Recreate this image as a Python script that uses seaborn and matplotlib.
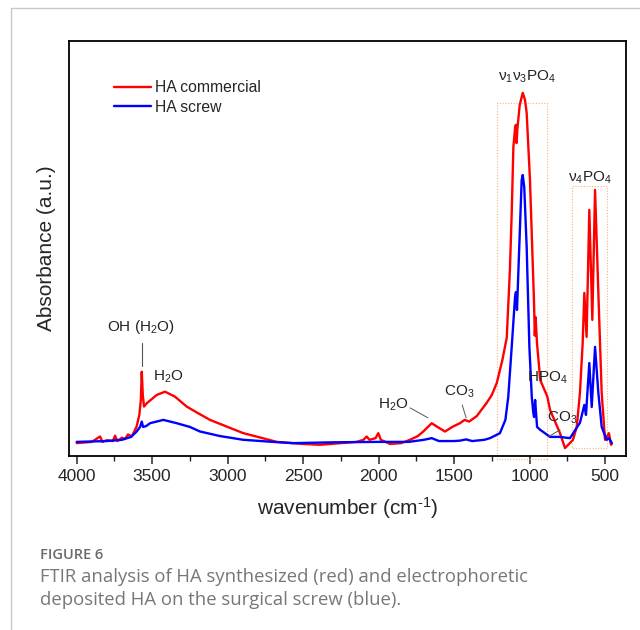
import pandas as pd
import matplotlib.pyplot as plt
import seaborn as sns
from matplotlib.lines import Line2D
from matplotlib.patches import Rectangle

# FTIR spectra (wavenumber in cm-1, absorbance in a.u.)
commercial_wn = [4000, 3900, 3845, 3830, 3800, 3760, 3746, 3730, 3700, 3680, 3660, 3636,
                 3620, 3603, 3585, 3575, 3569, 3562, 3554, 3536, 3470, 3415, 3349, 3271,
                 3200, 3117, 3000, 2896, 2800, 2675, 2500, 2388, 2250, 2145, 2100, 2079,
                 2060, 2020, 2002, 1985, 1924, 1850, 1792, 1740, 1704, 1648, 1610, 1560,
                 1507, 1461, 1430, 1400, 1350, 1284, 1250, 1217, 1180, 1151, 1130, 1118,
                 1107, 1095, 1090, 1086, 1080, 1065, 1045, 1030, 1019, 997, 979, 971, 965,
                 960, 950, 929, 882, 864, 798, 765, 712, 687, 666, 648, 637, 622, 604, 584,
                 566, 544, 522, 500, 474, 460, 455]
commercial_abs = [0.031, 0.034, 0.047, 0.034, 0.038, 0.036, 0.049, 0.036, 0.044, 0.041,
                  0.052, 0.047, 0.058, 0.071, 0.099, 0.135, 0.203, 0.147, 0.119, 0.127,
                  0.147, 0.155, 0.143, 0.119, 0.104, 0.087, 0.070, 0.055, 0.046, 0.034,
                  0.029, 0.027, 0.031, 0.034, 0.039, 0.047, 0.039, 0.043, 0.055, 0.039,
                  0.029, 0.031, 0.039, 0.048, 0.059, 0.079, 0.070, 0.059, 0.071, 0.079,
                  0.087, 0.083, 0.096, 0.128, 0.147, 0.176, 0.231, 0.285, 0.448, 0.586,
                  0.745, 0.793, 0.798, 0.754, 0.790, 0.846, 0.875, 0.858, 0.827, 0.665,
                  0.465, 0.380, 0.290, 0.335, 0.270, 0.183, 0.143, 0.111, 0.055, 0.019,
                  0.039, 0.071, 0.152, 0.272, 0.393, 0.287, 0.593, 0.328, 0.641, 0.393,
                  0.152, 0.039, 0.055, 0.027, 0.030]

screw_wn = [4000, 3800, 3700, 3640, 3603, 3580, 3569, 3560, 3540, 3514, 3426, 3337, 3250,
            3183, 3050, 2896, 2700, 2567, 2300, 2000, 1800, 1700, 1648, 1600, 1500, 1461,
            1420, 1380, 1300, 1262, 1196, 1160, 1141, 1118, 1096, 1090, 1083, 1068, 1052,
            1045, 1035, 1019, 1001, 985, 975, 970, 963, 950, 929, 864, 800, 732, 666,
            637, 626, 604, 588, 566, 544, 522, 489, 474, 455]
screw_abs = [0.034, 0.036, 0.039, 0.046, 0.059, 0.070, 0.083, 0.070, 0.072, 0.079, 0.087,
             0.079, 0.070, 0.059, 0.048, 0.039, 0.034, 0.031, 0.033, 0.034, 0.034, 0.039,
             0.043, 0.036, 0.036, 0.037, 0.040, 0.036, 0.039, 0.043, 0.055, 0.087, 0.142,
             0.263, 0.383, 0.395, 0.352, 0.504, 0.665, 0.677, 0.648, 0.504, 0.263, 0.142,
             0.104, 0.094, 0.135, 0.070, 0.063, 0.046, 0.046, 0.043, 0.080, 0.123, 0.099,
             0.224, 0.118, 0.263, 0.152, 0.070, 0.039, 0.043, 0.031]

series_names = ["HA commercial", "HA screw"]
x_ticks = [4000, 3500, 3000, 2500, 2000, 1500, 1000, 500]

df = pd.concat([
    pd.DataFrame({"wn": commercial_wn, "abs": commercial_abs, "sample": series_names[0]}),
    pd.DataFrame({"wn": screw_wn, "abs": screw_abs, "sample": series_names[1]}),
])

sns.set_style("ticks")
plt.rcParams["font.family"] = ["Liberation Sans", "DejaVu Sans"]
plt.rcParams["mathtext.fontset"] = "custom"
plt.rcParams["mathtext.rm"] = "Liberation Sans"
plt.rcParams["mathtext.default"] = "regular"

fig = plt.figure(figsize=(6.4, 6.3), dpi=100)
ax = fig.add_axes([0.1078, 0.2762, 0.8703, 0.6587])

sns.lineplot(data=df, x="wn", y="abs", hue="sample", estimator=None, sort=False,
             palette={"HA commercial": "#ff0000", "HA screw": "#0000ff"},
             linewidth=1.7, ax=ax)

ax.set_xlim(4051, 361)
ax.set_ylim(0, 1)
ax.set_xticks(x_ticks)
ax.set_xticks([3750, 3250, 2750, 2250, 1750, 1250, 750], minor=True)
ax.set_yticks([])
ax.tick_params(axis="x", which="major", direction="out", length=6, width=1.1, labelsize=12.5)
ax.tick_params(axis="x", which="minor", direction="out", length=3.5, width=1.0)
for s in ax.spines.values():
    s.set_linewidth(1.3)
    s.set_color("black")

ax.set_xlabel("wavenumber (cm$^{\u2010 1}$)", fontsize=15, labelpad=8)
ax.set_ylabel("Absorbance (a.u.)", fontsize=15, labelpad=9)

ax.legend(title=None, frameon=False, loc="upper left", bbox_to_anchor=(0.055, 0.94),
          fontsize=11.3, handlelength=2.4, handletextpad=0.25, labelspacing=0.3)

# dotted boxes around phosphate bands
box_kw = dict(fill=False, linestyle=(0, (1, 1.5)), linewidth=0.8, edgecolor="#f5b27a", clip_on=False)
ax.add_patch(Rectangle((886, -0.008), 1213 - 886, 0.858, **box_kw))
ax.add_patch(Rectangle((489, 0.019), 717 - 489, 0.651 - 0.019, **box_kw))

tk = dict(fontsize=11, ha="center", va="center", color="#222222")
ax.text(3574, 0.311, "OH (H$_2$O)", **tk)
ax.plot([3570, 3570], [0.272, 0.217], color="#555555", linewidth=0.8)
ax.text(3395, 0.190, "H$_2$O", **tk)
ax.text(1904, 0.123, "H$_2$O", **tk)
ax.plot([1792, 1673], [0.116, 0.092], color="#555555", linewidth=0.7)
ax.text(1466, 0.154, "CO$_3$", **tk)
ax.plot([1446, 1420], [0.123, 0.092], color="#555555", linewidth=0.7)
ax.text(880, 0.188, "HPO$_4$", **tk)
ax.text(785, 0.092, "CO$_3$", **tk)
ax.plot([798, 877], [0.063, 0.046], color="#555555", linewidth=0.7)
ax.text(1017, 0.913, "ν$_1$ν$_3$PO$_4$", **tk)
ax.text(599, 0.670, "ν$_4$PO$_4$", **tk)

# page frame and caption
fig.add_artist(Line2D([11 / 640, 11 / 640], [0, 1 - 8 / 630], color="#c8c8c8", linewidth=1))
fig.add_artist(Line2D([11 / 640, 1], [1 - 8 / 630, 1 - 8 / 630], color="#c8c8c8", linewidth=1))
fig.text(40 / 640, 1 - 555 / 630, "FIGURE 6", family=["Open Sans", "DejaVu Sans"],
         fontsize=10.5, weight="semibold", color="#6b6b6b", va="center")
fig.text(40 / 640, 1 - 577 / 630, "FTIR analysis of HA synthesized (red) and electrophoretic",
         family=["Open Sans", "DejaVu Sans"], fontsize=13.3, color="#777777", va="center")
fig.text(40 / 640, 1 - 600 / 630, "deposited HA on the surgical screw (blue).",
         family=["Open Sans", "DejaVu Sans"], fontsize=13.3, color="#777777", va="center")

fig.savefig("out.png", dpi=100)
